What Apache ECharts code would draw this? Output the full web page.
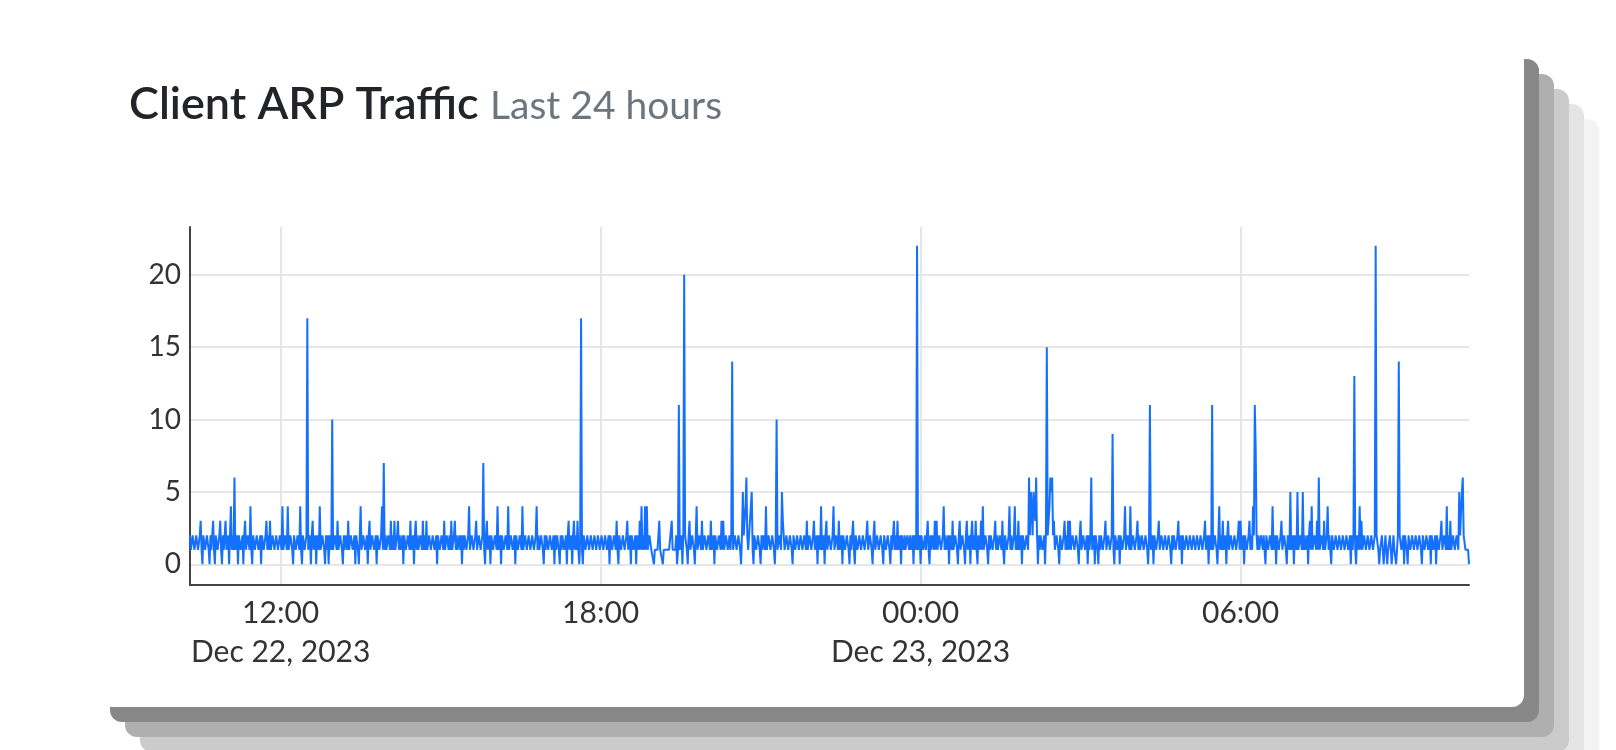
<!DOCTYPE html>
<html>
<head>
<meta charset="utf-8">
<script src="https://cdn.jsdelivr.net/npm/echarts@6/dist/echarts.min.js"></script>
<style>
html,body{margin:0;padding:0;background:#ffffff;width:1616px;height:750px;overflow:hidden;}
#card{position:absolute;left:95px;top:44px;width:1429px;height:663px;background:#ffffff;border-radius:12px;
box-shadow:15px 15px 0 #888888,30px 30px 0 #afafaf,45px 45px 0 #cbcbcb,60px 60px 0 #e5e5e5,75px 75px 0 #f3f3f3;}
#chart{position:absolute;left:0;top:0;width:1616px;height:750px;}
</style>
</head>
<body>
<div id="card"></div>
<div id="chart"></div>
<script>
// Client ARP Traffic, one reading per minute, starting Dec 22, 2023 10:18 (one array per hour)
const START_TIME = [2023, 11, 22, 10, 18];
const STEP_MINUTES = 1;

const h0  = [2,1,1,2,2,1,1,2,2,1,1,2,3,1,0,2,2,1,1,2, 2,1,0,2,1,2,3,1,0,2,2,1,1,2,3,1,0,2,1,2, 3,1,1,2,0,2,4,1,2,1,6,1,1,2,0,2,2,1,1,2];
const h1  = [0,2,3,1,1,2,2,1,4,1,0,2,2,1,1,2,2,1,1,2, 0,2,2,1,1,2,3,1,2,1,3,1,1,2,2,1,1,2,2,1, 1,2,2,1,4,1,1,2,2,1,4,1,1,2,2,1,0,2,2,1];
const h2  = [1,2,2,1,4,1,0,2,2,1,1,2,17,1,1,2,0,2,3,1, 1,2,0,2,2,1,4,1,1,2,2,1,0,2,1,2,0,2,2,1, 10,1,1,2,2,1,3,1,1,2,2,1,0,2,1,2,2,1,3,1];
const h3  = [1,2,2,1,1,2,0,2,2,1,0,2,4,1,1,2,2,1,1,2, 0,2,3,1,1,2,2,1,1,2,0,2,2,1,1,2,4,1,7,1, 2,1,1,2,2,1,3,1,2,1,3,1,1,2,3,1,2,1,1,2];
const h4  = [0,2,2,1,1,2,2,1,3,1,1,2,0,2,3,1,2,1,1,2, 2,1,3,1,2,1,3,1,1,2,2,1,1,2,2,1,1,2,0,2, 2,1,1,2,2,1,3,1,1,2,2,1,2,1,3,1,1,2,3,1];
const h5  = [2,1,1,2,1,2,0,2,1,2,2,1,1,2,4,1,1,2,2,1, 1,2,3,1,1,2,2,1,1,2,7,1,0,2,3,1,1,2,0,2, 2,1,1,2,2,1,4,1,1,2,0,2,2,1,1,2,2,1,4,1];
const h6  = [1,2,2,1,1,2,0,2,2,1,1,2,2,1,4,1,1,2,2,1, 1,2,2,1,1,2,2,1,1,2,4,1,2,1,1,2,2,1,0,2, 1,2,2,1,1,2,2,1,1,2,0,2,1,2,2,1,0,2,1,2];
const h7  = [2,1,1,2,0,2,3,1,1,2,0,2,3,1,2,1,3,1,0,2, 17,1,0,2,2,1,1,2,2,1,1,2,2,1,1,2,2,1,1,2, 2,1,1,2,2,1,1,2,2,1,1,2,0,2,2,1,1,2,2,1];
const h8  = [3,1,0,2,2,1,1,2,2,1,1,2,3,1,1,2,0,2,2,1, 1,2,0,2,2,1,3,1,4,1,2,1,4,1,4,1,1,2,2,1, 1,1,0,1,1,1,1,1,3,1,1,1,0,1,1,1,1,1,1,1];
const h9  = [1,1,3,1,1,1,1,2,0,1,11,1,1,2,0,2,20,2,2,1, 0,2,3,1,1,2,2,1,0,2,4,1,1,2,2,1,3,1,1,2, 2,1,1,2,2,1,3,1,1,2,0,2,2,1,1,2,2,1,3,1];
const h10 = [3,1,1,2,2,1,1,2,1,2,14,1,1,2,2,1,1,2,2,1, 0,2,5,2,2,4,6,2,1,2,2,4,5,1,0,2,2,1,1,2, 2,1,0,2,1,2,2,1,4,1,1,2,2,1,1,2,2,1,0,2];
const h11 = [10,1,1,2,2,1,5,3,3,1,1,2,2,1,1,2,2,1,0,2, 2,1,1,2,2,1,1,2,2,1,1,2,2,1,3,1,1,2,2,1, 1,2,3,1,1,2,0,2,2,1,4,1,1,2,0,2,3,1,1,2];
const h12 = [2,1,1,2,4,1,1,2,2,1,3,1,1,2,0,2,2,1,1,2, 2,1,0,2,1,2,3,1,0,2,2,1,1,2,2,1,1,2,2,1, 1,2,3,1,1,2,2,1,0,2,3,1,1,2,2,1,1,2,2,1];
const h13 = [0,2,2,1,1,2,2,1,0,2,1,2,3,1,2,1,3,1,1,2, 0,2,2,1,2,1,1,2,2,1,2,1,1,2,0,2,2,1,22,1, 1,2,0,2,2,1,1,2,1,2,3,1,0,2,1,2,2,1,3,1];
const h14 = [3,1,1,2,2,1,1,2,4,1,2,1,1,2,0,2,2,1,3,1, 1,2,2,1,0,2,3,1,1,2,2,1,0,2,3,1,1,2,0,2, 3,1,2,1,3,1,0,2,2,1,3,1,4,1,1,2,2,1,0,2];
const h15 = [1,2,2,1,1,2,3,1,2,1,1,2,2,1,3,1,0,2,2,1, 1,2,4,1,2,1,1,2,4,1,2,1,3,1,1,2,0,2,2,1, 1,2,2,1,6,2,5,4,2,5,5,3,6,2,0,2,1,2,2,1];
const h16 = [1,2,0,2,15,2,2,4,6,5,6,2,3,1,1,2,2,1,0,2, 2,1,1,2,3,1,2,1,3,1,3,1,1,2,2,1,1,2,2,1, 0,2,3,1,1,2,2,1,1,2,0,2,1,2,6,1,1,2,0,2];
const h17 = [2,1,0,2,1,2,2,1,1,2,3,1,1,2,2,1,1,2,9,1, 0,2,2,1,1,2,0,2,2,1,1,2,4,1,1,2,2,1,4,1, 1,2,2,1,1,2,3,1,2,1,1,2,2,1,1,2,2,1,0,2];
const h18 = [11,1,1,2,0,2,2,1,1,2,3,1,1,2,2,1,1,2,2,1, 1,2,2,1,0,2,1,2,2,1,1,2,3,1,1,2,0,2,2,1, 1,2,2,1,1,2,2,1,1,2,2,1,1,2,2,1,1,2,2,1];
const h19 = [1,2,3,1,1,2,0,2,2,1,11,1,1,2,2,1,0,2,4,1, 2,1,3,1,1,2,0,2,3,1,1,2,2,1,1,2,2,1,1,2, 3,1,3,1,1,2,0,2,2,1,1,2,3,1,2,1,4,2,11,8];
const h20 = [2,1,2,1,1,2,2,1,2,1,0,2,2,1,1,2,2,1,4,1, 1,2,0,2,2,1,1,2,3,1,1,2,2,1,0,2,2,1,5,1, 1,2,0,2,2,1,5,1,1,2,2,1,5,1,2,1,1,2,0,2];
const h21 = [3,1,4,1,1,2,2,1,3,1,6,1,1,2,2,1,3,1,1,2, 4,1,2,1,0,2,2,1,1,2,2,1,1,2,2,1,1,2,2,1, 1,2,2,1,1,2,0,2,1,2,13,1,0,2,2,1,4,1,3,1];
const h22 = [1,2,2,1,1,2,2,1,1,2,2,1,1,2,22,2,2,1,0,1, 1,2,1,0,1,2,1,0,1,1,2,1,0,1,2,1,1,0,1,2, 14,2,2,1,1,2,0,2,2,1,0,2,2,1,1,2,2,1,1,2];
const h23 = [2,1,1,2,2,1,0,2,2,1,1,2,2,1,1,2,0,2,2,1, 1,2,0,2,2,1,1,2,3,1,1,2,2,1,4,1,2,1,3,1, 1,2,2,1,1,2,2,1,5,2,2,5,6,2,2,1,1,1,1,0];

const MONTHS = ['Jan','Feb','Mar','Apr','May','Jun','Jul','Aug','Sep','Oct','Nov','Dec'];
const TITLE = 'Client ARP Traffic';
const SUBTITLE = 'Last 24 hours';

const values = [].concat(h0,h1,h2,h3,h4,h5,h6,h7,h8,h9,h10,h11,h12,h13,h14,h15,h16,h17,h18,h19,h20,h21,h22,h23);
const t0 = new Date(START_TIME[0], START_TIME[1], START_TIME[2], START_TIME[3], START_TIME[4]).getTime();
const stepMs = STEP_MINUTES * 60 * 1000;
const data = values.map((v, i) => [t0 + i * stepMs, v]);
const tEnd = t0 + (values.length - 1) * stepMs;
const HOUR = 3600 * 1000;

function pad(n){ return (n < 10 ? '0' : '') + n; }

const FONT = 'Lato, "Open Sans", sans-serif';
const chart = echarts.init(document.getElementById('chart'), null, {renderer: 'canvas'});
chart.setOption({
  animation: false,
  backgroundColor: 'transparent',
  graphic: [
    {type: 'text', left: 129, top: 82, style: {text: TITLE, font: '600 45px ' + FONT, fill: '#212529'}},
    {type: 'text', left: 490, top: 87, style: {text: SUBTITLE, font: '400 39px ' + FONT, fill: '#6c757d'}}
  ],
  grid: {left: 190, right: 147, top: 227, bottom: 165, containLabel: false, outerBoundsMode: 'none'},
  xAxis: {
    type: 'time',
    min: t0, max: tEnd,
    minInterval: 7 * HOUR,
    maxInterval: 7 * HOUR,
    splitNumber: 3,
    axisLine: {show: true, onZero: false, lineStyle: {color: '#444444', width: 2}},
    axisTick: {show: false},
    splitLine: {show: true, showMinLine: false, showMaxLine: false, lineStyle: {color: '#e6e6e6', width: 2}},
    axisLabel: {
      showMinLabel: false, showMaxLabel: false, hideOverlap: false,
      margin: 9, fontSize: 30, lineHeight: 39, fontFamily: FONT, color: '#333333',
      formatter: function (v) {
        const d = new Date(v);
        let s = pad(d.getHours()) + ':' + pad(d.getMinutes());
        if (d.getHours() === 0 || (d.getDate() === START_TIME[2] && d.getHours() === 12)) {
          s += '\n' + MONTHS[d.getMonth()] + ' ' + d.getDate() + ', ' + d.getFullYear();
        }
        return s;
      }
    }
  },
  yAxis: {
    type: 'value',
    min: -1.43, max: 23.3,
    axisLine: {show: true, lineStyle: {color: '#444444', width: 2}},
    axisTick: {show: false},
    splitLine: {show: true, showMinLine: false, showMaxLine: false, lineStyle: {color: '#e6e6e6', width: 2}},
    axisLabel: {showMinLabel: false, showMaxLabel: false, margin: 9, fontSize: 28, fontFamily: FONT, color: '#333333'}
  },
  series: [{
    type: 'line',
    data: data,
    showSymbol: false,
    symbol: 'none',
    sampling: null,
    lineStyle: {color: '#1570ff', width: 2},
    z: 3
  }]
});
</script>
</body>
</html>
